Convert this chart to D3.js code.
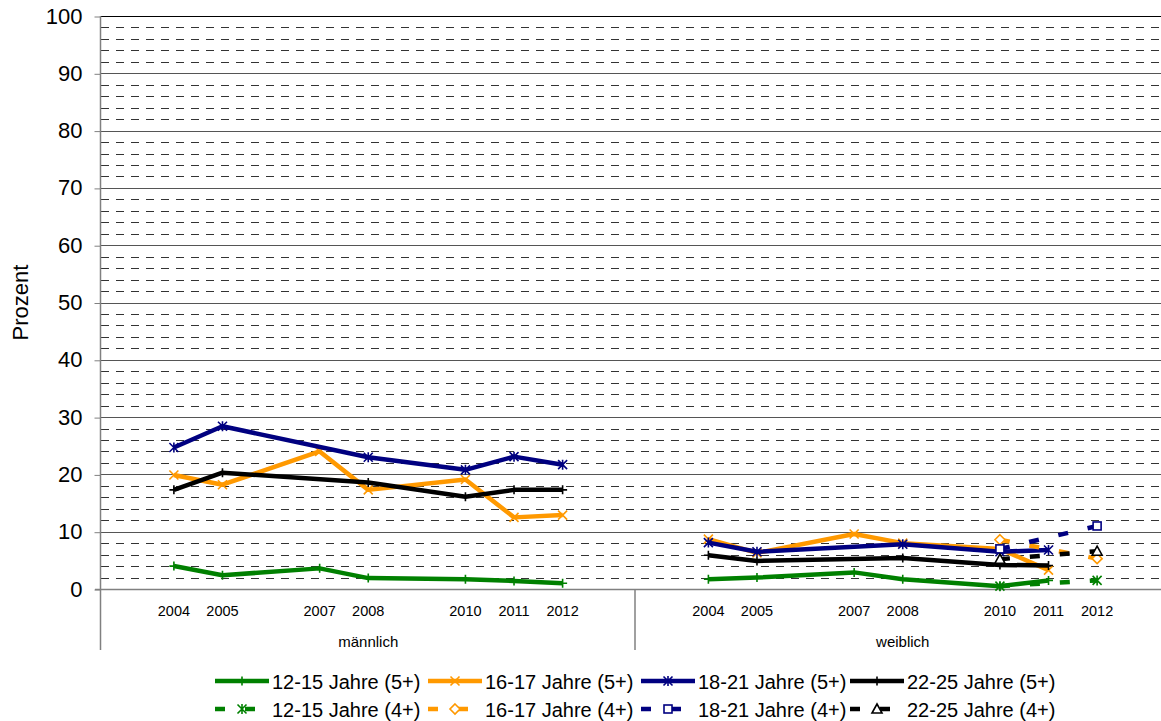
<!DOCTYPE html>
<html><head><meta charset="utf-8">
<script src="https://cdn.jsdelivr.net/npm/d3@7/dist/d3.min.js"></script>
<style>body{margin:0;background:#fff;} svg{display:block;font-family:"Liberation Sans",Arial,sans-serif;}</style>
</head><body><svg id="c" width="1161" height="721"></svg>
<script>
// ---------- data ----------
const groups = ["männlich", "weiblich"];
const slots = ["", "2004", "2005", "", "2007", "2008", "", "2010", "2011", "2012", ""];
const yTicks = [0, 10, 20, 30, 40, 50, 60, 70, 80, 90, 100];
const seriesNames = ["12-15 Jahre (5+)", "16-17 Jahre (5+)", "18-21 Jahre (5+)", "22-25 Jahre (5+)",
                     "12-15 Jahre (4+)", "16-17 Jahre (4+)", "18-21 Jahre (4+)", "22-25 Jahre (4+)"];
// values: 11 slots männlich, then 11 slots weiblich (null = no value)
const v12_15_5 = [null, 4.0, 2.4, null, 3.6, 1.9, null, 1.7, 1.4, 1.0, null,
                  null, 1.7, 2.0, null, 2.9, 1.7, null, 0.5, 1.5, null, null];
const v16_17_5 = [null, 19.9, 18.2, null, 24.0, 17.3, null, 19.1, 12.5, 12.9, null,
                  null, 8.7, 6.3, null, 9.6, 8.0, null, 7.0, 3.3, null, null];
const v18_21_5 = [null, 24.7, 28.4, null, null, 23.0, null, 20.8, 23.1, 21.7, null,
                  null, 8.1, 6.5, null, null, 7.8, null, 6.5, 6.8, null, null];
const v22_25_5 = [null, 17.3, 20.3, null, null, 18.6, null, 16.1, 17.3, 17.3, null,
                  null, 5.9, 4.9, null, null, 5.4, null, 4.2, 4.1, null, null];
const v12_15_4 = [null, null, null, null, null, null, null, null, null, null, null,
                  null, null, null, null, null, null, null, 0.5, null, 1.5, null];
const v16_17_4 = [null, null, null, null, null, null, null, null, null, null, null,
                  null, null, null, null, null, null, null, 8.6, null, 5.3, null];
const v18_21_4 = [null, null, null, null, null, null, null, null, null, null, null,
                  null, null, null, null, null, null, null, 7.0, null, 11.0, null];
const v22_25_4 = [null, null, null, null, null, null, null, null, null, null, null,
                  null, null, null, null, null, null, null, 5.2, null, 6.6, null];

// ---------- styles ----------
const seriesValues = [v12_15_5, v16_17_5, v18_21_5, v22_25_5, v12_15_4, v16_17_4, v18_21_4, v22_25_4];
const colors = ["#008000", "#FF9900", "#000080", "#000000", "#008000", "#FF9900", "#000080", "#000000"];
const markers = ["plus", "cross", "star", "plus", "star", "diamond", "square", "triangle"];
const dashed = [false, false, false, false, true, true, true, true];

const svg = d3.select("#c");
const W = 1161, H = 721;
const plotL = 101, plotR = 1170, plotT = 16, plotB = 589;

const keys = [];
groups.forEach((g, gi) => slots.forEach((s, si) => keys.push(gi * slots.length + si)));
const x = d3.scaleBand().domain(keys).range([plotL, plotR]).paddingInner(0).paddingOuter(0);
const cx = i => x(i) + x.bandwidth() / 2;
const y = d3.scaleLinear().domain([0, 100]).range([plotB, plotT]);

// minor dashed gridlines
const minor = d3.range(2, 100, 2).filter(v => v % 10 !== 0);
svg.append("g").selectAll("line").data(minor).join("line")
  .attr("x1", plotL).attr("x2", plotR)
  .attr("y1", d => Math.round(y(d)) + 0.5).attr("y2", d => Math.round(y(d)) + 0.5)
  .attr("stroke", "#333").attr("stroke-width", 1).attr("stroke-dasharray", "8,7");
// major gridlines
svg.append("g").selectAll("line").data(yTicks.filter(v => v > 0)).join("line")
  .attr("x1", plotL).attr("x2", plotR)
  .attr("y1", d => Math.round(y(d)) + 0.5).attr("y2", d => Math.round(y(d)) + 0.5)
  .attr("stroke", d => d === 100 ? "#000" : "#555").attr("stroke-width", 1);

// y axis
const yAxis = d3.axisLeft(y).tickValues(yTicks).tickSize(6).tickPadding(12).tickFormat(d3.format("d"));
const gy = svg.append("g").attr("transform", `translate(${plotL - 0.5},0)`).call(yAxis);
gy.select(".domain").remove();
gy.selectAll(".tick line").attr("stroke", "#808080").attr("transform", "translate(0,0.5)");
gy.selectAll(".tick text").attr("font-size", 22).attr("fill", "#000")
  .attr("font-family", "Liberation Sans, Arial, sans-serif");
svg.append("line").attr("x1", plotL - 0.5).attr("x2", plotL - 0.5).attr("y1", plotT).attr("y2", 650)
  .attr("stroke", "#808080").attr("stroke-width", 1.5);

// x axis line
svg.append("line").attr("x1", plotL - 6).attr("x2", plotR).attr("y1", plotB + 0.5).attr("y2", plotB + 0.5)
  .attr("stroke", "#808080").attr("stroke-width", 1.5);
// group separators
svg.append("line").attr("x1", x(slots.length) - 0.5).attr("x2", x(slots.length) - 0.5)
  .attr("y1", plotB).attr("y2", 650).attr("stroke", "#808080").attr("stroke-width", 1.5);
svg.append("line").attr("x1", plotR - 0.5).attr("x2", plotR - 0.5)
  .attr("y1", plotB).attr("y2", 650).attr("stroke", "#808080").attr("stroke-width", 1.5);

// year labels
svg.append("g").selectAll("text").data(keys).join("text")
  .attr("x", d => cx(d)).attr("y", 616).attr("text-anchor", "middle")
  .attr("font-size", 14.5).text(d => slots[d % slots.length]);
// group labels
svg.append("g").selectAll("text").data(groups).join("text")
  .attr("x", (d, gi) => (x(gi * slots.length) + x(gi * slots.length + slots.length - 1) + x.bandwidth()) / 2)
  .attr("y", 647).attr("text-anchor", "middle").attr("font-size", 15).text(d => d);

// y title
svg.append("text").attr("transform", `translate(28,${(plotT + plotB) / 2}) rotate(-90)`)
  .attr("text-anchor", "middle").attr("font-size", 22).text("Prozent");

// marker drawing
function drawMarker(g, type, color, px, py) {
  const s = 4.5;
  if (type === "plus") {
    g.append("path").attr("d", `M${px - s},${py}H${px + s}M${px},${py - s}V${py + s}`)
      .attr("stroke", color).attr("stroke-width", 1.6).attr("fill", "none");
  } else if (type === "cross") {
    g.append("path").attr("d", `M${px - s},${py - s}L${px + s},${py + s}M${px - s},${py + s}L${px + s},${py - s}`)
      .attr("stroke", color).attr("stroke-width", 1.6).attr("fill", "none");
  } else if (type === "star") {
    g.append("path").attr("d", `M${px - s},${py - s}L${px + s},${py + s}M${px - s},${py + s}L${px + s},${py - s}M${px},${py - s - 0.5}V${py + s + 0.5}`)
      .attr("stroke", color).attr("stroke-width", 1.6).attr("fill", "none");
  } else if (type === "diamond") {
    g.append("path").attr("d", `M${px},${py - 5}L${px + 5},${py}L${px},${py + 5}L${px - 5},${py}Z`)
      .attr("stroke", color).attr("stroke-width", 1.6).attr("fill", "#fff");
  } else if (type === "square") {
    g.append("rect").attr("x", px - 4).attr("y", py - 4).attr("width", 8).attr("height", 8)
      .attr("stroke", color).attr("stroke-width", 1.6).attr("fill", "#fff");
  } else if (type === "triangle") {
    g.append("path").attr("d", `M${px},${py - 5}L${px + 5},${py + 4}L${px - 5},${py + 4}Z`)
      .attr("stroke", color).attr("stroke-width", 1.6).attr("fill", "#fff");
  }
}

// series
const line = d3.line().x(d => cx(d.i)).y(d => y(d.v));
const gs = svg.append("g");
seriesValues.forEach((vals, si) => {
  const g = gs.append("g");
  groups.forEach((grp, gi) => {
    const pts = [];
    for (let k = 0; k < slots.length; k++) {
      const i = gi * slots.length + k;
      if (vals[i] !== null) pts.push({ i, v: vals[i] });
    }
    if (pts.length > 1) {
      g.append("path").attr("d", line(pts)).attr("fill", "none")
        .attr("stroke", colors[si]).attr("stroke-width", 4.5)
        .attr("stroke-linejoin", "round")
        .attr("stroke-dasharray", dashed[si] ? "10,20" : null);
    }
    pts.forEach(p => drawMarker(g, markers[si], colors[si], cx(p.i), y(p.v)));
  });
});

// legend
const legX = [272, 485, 698, 907];
const legY = [681, 709];
const lg = svg.append("g");
seriesNames.forEach((name, si) => {
  const col = si % 4, row = Math.floor(si / 4);
  const tx = legX[col], ly = legY[row];
  lg.append("line").attr("x1", tx - 57).attr("x2", tx - 3).attr("y1", ly).attr("y2", ly)
    .attr("stroke", colors[si]).attr("stroke-width", 4.5)
    .attr("stroke-dasharray", dashed[si] ? "10,20" : null);
  drawMarker(lg, markers[si], colors[si], tx - 30, ly);
  lg.append("text").attr("x", tx).attr("y", ly + 8).attr("font-size", 20).text(name);
});
</script></body></html>
